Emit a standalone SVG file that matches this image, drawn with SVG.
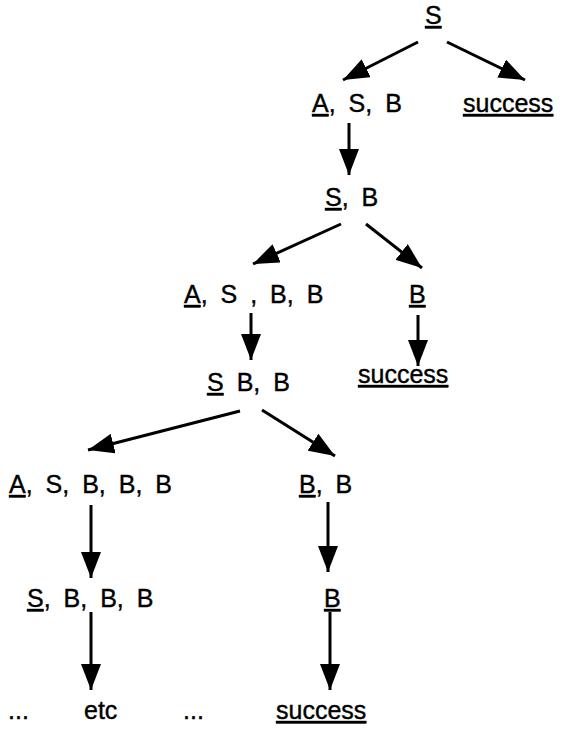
<svg xmlns="http://www.w3.org/2000/svg" width="581" height="731" viewBox="0 0 581 731">
<style>
text{font-family:"Liberation Sans",Arial,sans-serif;font-size:25px;fill:#000;stroke:#000;stroke-width:0.4;word-spacing:6px}
.u{text-decoration:underline}
.c line{stroke:#000;stroke-width:3;marker-end:url(#ah)}
</style>
<defs>
<marker id="ah" viewBox="0 0 26 20" refX="26" refY="10" markerWidth="26" markerHeight="20" markerUnits="userSpaceOnUse" orient="auto">
<path d="M0,0 L26,10 L0,20 Z" fill="#000"/>
</marker>
</defs>
<rect width="581" height="731" fill="#fff"/>
<g id="n0"><text x="425" y="24"><tspan class="u">S</tspan></text></g>
<g id="n1"><text x="312" y="112"><tspan class="u">A</tspan>, S, B</text></g>
<g id="n2"><text x="463" y="112"><tspan class="u">success</tspan></text></g>
<g id="n3"><text x="325" y="206"><tspan class="u">S</tspan>, B</text></g>
<g id="n4"><text x="184" y="303"><tspan class="u">A</tspan>, S , B, B</text></g>
<g id="n5"><text x="409" y="303"><tspan class="u">B</tspan></text></g>
<g id="n6"><text x="207" y="391"><tspan class="u">S</tspan> B, B</text></g>
<g id="n7"><text x="358" y="383"><tspan class="u">success</tspan></text></g>
<g id="n8"><text x="9" y="493"><tspan class="u">A</tspan>, S, B, B, B</text></g>
<g id="n9"><text x="299" y="493"><tspan class="u">B</tspan>, B</text></g>
<g id="n10"><text x="27" y="607"><tspan class="u">S</tspan>, B, B, B</text></g>
<g id="n11"><text x="324" y="607"><tspan class="u">B</tspan></text></g>
<g id="n12"><text x="8" y="719">...</text></g>
<g id="n13"><text x="84" y="719">etc</text></g>
<g id="n14"><text x="183" y="719">...</text></g>
<g id="n15"><text x="276" y="719"><tspan class="u">success</tspan></text></g>
<g id="connectors" class="c">
<line x1="418" y1="42" x2="343" y2="80"/>
<line x1="447" y1="42" x2="525" y2="80"/>
<line x1="349" y1="123" x2="349" y2="175"/>
<line x1="341" y1="224" x2="253" y2="264"/>
<line x1="366" y1="224" x2="422" y2="268"/>
<line x1="251" y1="313" x2="251" y2="360"/>
<line x1="418" y1="315" x2="418" y2="366"/>
<line x1="240" y1="411" x2="88" y2="450"/>
<line x1="262" y1="410" x2="335" y2="456"/>
<line x1="91" y1="505" x2="91" y2="578"/>
<line x1="328" y1="502" x2="328" y2="572"/>
<line x1="91" y1="612" x2="91" y2="690"/>
<line x1="330" y1="612" x2="330" y2="690"/>
</g>
</svg>
